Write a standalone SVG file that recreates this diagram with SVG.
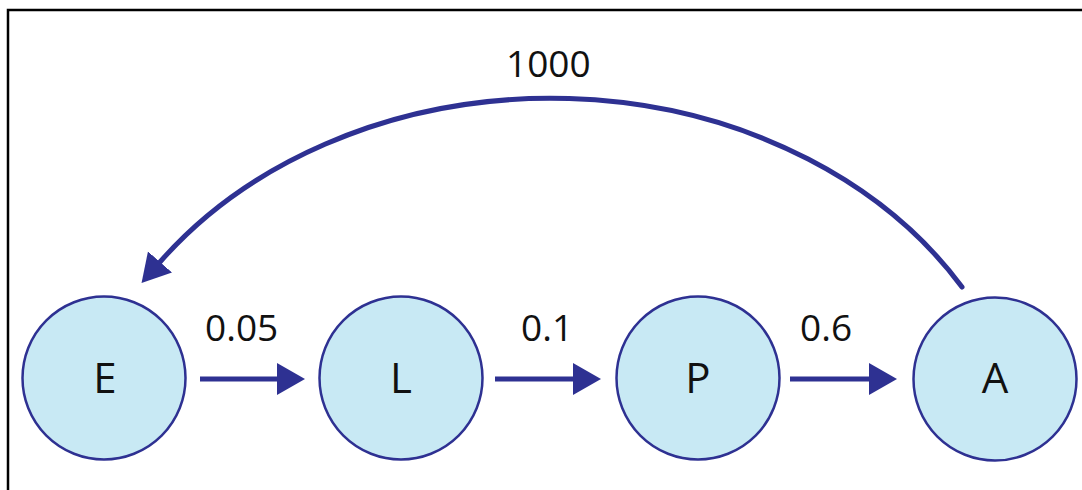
<svg xmlns="http://www.w3.org/2000/svg" width="1082" height="490" viewBox="0 0 1082 490">
  <style>
    .node { fill: #c8e9f4; stroke: #2e3192; stroke-width: 2.5; }
    .lbl { font-family: "Open Sans", "Liberation Sans", sans-serif; fill: #111; }
    .nl { font-size: 42px; text-anchor: middle; }
    .el { font-size: 37px; }
    .edge { fill: none; stroke: #2e3192; stroke-width: 5; }
  </style>
  <defs>
    <marker id="ah" markerUnits="userSpaceOnUse" markerWidth="30" markerHeight="34" refX="0" refY="16" orient="auto" viewBox="0 0 30 34">
      <path d="M0,0 L28,16 L0,32 z" fill="#2e3192"/>
    </marker>
  </defs>
  <rect width="1082" height="490" fill="#ffffff"/>
  <g id="frame">
    <path d="M8,490 L8,10 L1082,10" fill="none" stroke="#000" stroke-width="2.5"/>
  </g>
  <g id="connectors">
    <line class="edge" x1="200" y1="379" x2="277" y2="379" marker-end="url(#ah)"/>
    <line class="edge" x1="495" y1="379" x2="573" y2="379" marker-end="url(#ah)"/>
    <line class="edge" x1="790" y1="379" x2="869" y2="379" marker-end="url(#ah)"/>
    <path class="edge" stroke-linecap="round" d="M962,287 A480,390 0 0 0 160,262" marker-end="url(#ah)"/>
    <text class="lbl el" x="205" y="341">0.05</text>
    <text class="lbl el" x="521" y="341">0.1</text>
    <text class="lbl el" x="800" y="341">0.6</text>
    <text class="lbl el" x="506" y="77">1000</text>
  </g>
  <g id="node-E">
    <circle class="node" cx="104" cy="378" r="81.5"/>
    <text class="lbl nl" x="105" y="393">E</text>
  </g>
  <g id="node-L">
    <circle class="node" cx="401" cy="378" r="81.5"/>
    <text class="lbl nl" x="401" y="393">L</text>
  </g>
  <g id="node-P">
    <circle class="node" cx="698" cy="378" r="81.5"/>
    <text class="lbl nl" x="698" y="393">P</text>
  </g>
  <g id="node-A">
    <circle class="node" cx="995" cy="379" r="81.5"/>
    <text class="lbl nl" x="995" y="393">A</text>
  </g>
</svg>
